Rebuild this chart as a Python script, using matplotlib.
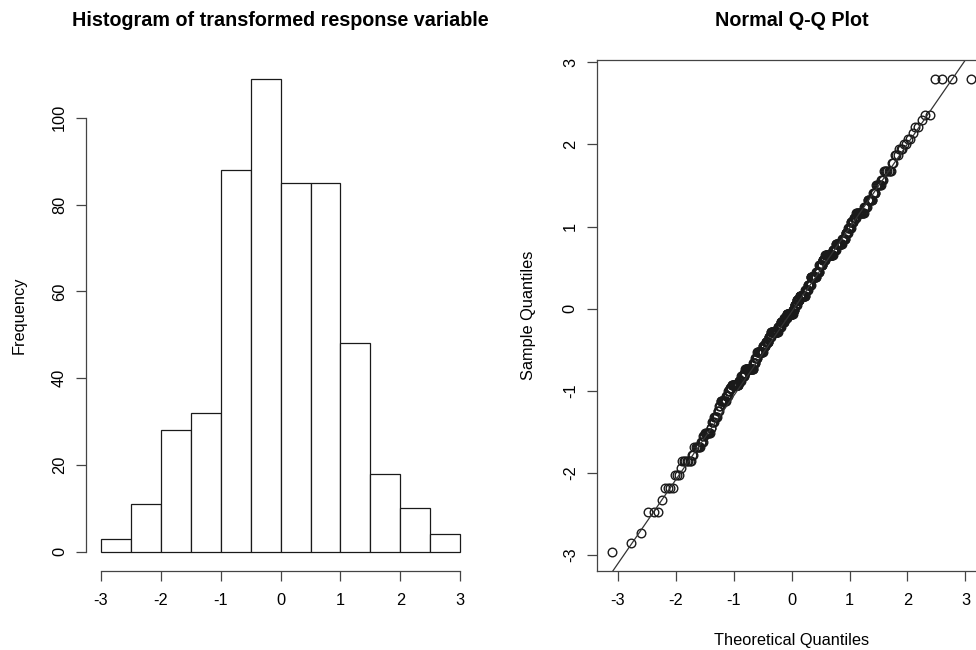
import numpy as np
import matplotlib
matplotlib.use("Agg")
import matplotlib.pyplot as plt
from statistics import NormalDist

plt.rcParams['font.family'] = ['Liberation Sans', 'DejaVu Sans']
plt.rcParams['axes.unicode_minus'] = False

# histogram: bin edges and frequencies
bin_edges = [-3.0, -2.5, -2.0, -1.5, -1.0, -0.5, 0.0, 0.5, 1.0, 1.5, 2.0, 2.5, 3.0]
bin_counts = [3, 11, 28, 32, 88, 109, 85, 85, 48, 18, 10, 4]

# sample values (sorted, distinct) and how many observations sit on each level
sample_levels = [
    -2.96, -2.85, -2.73,
    -2.48, -2.33, -2.18, -2.03,
    -1.94, -1.86, -1.78, -1.69, -1.62, -1.55, -1.51,
    -1.45, -1.38, -1.32, -1.25, -1.19, -1.13, -1.06, -1.00,
    -0.97, -0.935, -0.88, -0.82, -0.78, -0.73, -0.66, -0.60, -0.53,
    -0.46, -0.40, -0.35, -0.285, -0.22, -0.16, -0.11, -0.06, -0.01,
    0.05, 0.10, 0.16, 0.23, 0.29, 0.385, 0.45,
    0.53, 0.59, 0.65, 0.72, 0.79, 0.85, 0.92, 0.98,
    1.05, 1.10, 1.16, 1.24, 1.32, 1.41, 1.50,
    1.57, 1.68, 1.77, 1.87, 1.95,
    2.01, 2.07, 2.14, 2.21, 2.30, 2.36,
    2.80,
]
level_counts = [
    1, 1, 1,
    3, 1, 4, 3,
    1, 7, 2, 6, 3, 2, 7,
    2, 3, 5, 3, 2, 10, 4, 3,
    4, 16, 6, 8, 2, 22, 6, 6, 18,
    8, 10, 8, 24, 10, 12, 9, 22, 6,
    8, 10, 20, 9, 10, 18, 10,
    10, 9, 22, 8, 16, 8, 6, 6,
    6, 5, 14, 5, 8, 4, 6,
    3, 7, 2, 3, 3,
    2, 2, 1, 2, 1, 2,
    4,
]

hist_ticks_y = [0, 20, 40, 60, 80, 100]
axis_ticks = [-3, -2, -1, 0, 1, 2, 3]

# qqnorm-style theoretical quantiles
sample = np.repeat(sample_levels, level_counts)
n = len(sample)
nd = NormalDist()
theoretical = np.array([nd.inv_cdf((i - 0.5) / n) for i in range(1, n + 1)])

# qqline through the quartiles
yq = np.quantile(sample, [0.25, 0.75])
xq = np.array([nd.inv_cdf(0.25), nd.inv_cdf(0.75)])
slope = (yq[1] - yq[0]) / (xq[1] - xq[0])
intercept = yq[0] - slope * xq[0]

ink = '#1a1a1a'
fs_tick = 11.8
fs_title = 14.2

fig = plt.figure(figsize=(9.76, 6.5), dpi=100)

# left panel: histogram
ax1 = fig.add_axes([0.0886, 0.122, 0.3977, 0.786])
ax1.bar(bin_edges[:-1], bin_counts, width=np.diff(bin_edges), align='edge',
        color='white', edgecolor=ink, linewidth=0.9)
ax1.use_sticky_edges = False
ax1.margins(x=0.04, y=0.04)
ax1.set_xticks(axis_ticks)
ax1.set_yticks(hist_ticks_y)
for s in ['top', 'right']:
    ax1.spines[s].set_visible(False)
ax1.spines['left'].set_bounds(0, 100)
ax1.spines['bottom'].set_bounds(-3, 3)
for s in ['left', 'bottom']:
    ax1.spines[s].set_color('#444444')
    ax1.spines[s].set_linewidth(0.9)
ax1.set_title('Histogram of transformed response variable', fontsize=fs_title,
              fontweight='bold', pad=24)
ax1.set_ylabel('Frequency', fontsize=fs_tick)
ax1.yaxis.set_label_coords(-0.155, 0.5)

# right panel: normal Q-Q plot (right edge runs off the canvas)
ax2 = fig.add_axes([0.612, 0.122, 0.398, 0.786])
ax2.plot(theoretical, sample, 'o', mfc='none', mec=ink, ms=6.2, mew=1.0)
ax2.axline((0, intercept), slope=slope, color='#333333', linewidth=0.9)
ax2.margins(0.04)
ax2.set_xticks(axis_ticks)
ax2.set_yticks(axis_ticks)
for s in ax2.spines.values():
    s.set_color('#444444')
    s.set_linewidth(0.9)
ax2.set_title('Normal Q-Q Plot', fontsize=fs_title, fontweight='bold', pad=24)
ax2.set_xlabel('Theoretical Quantiles', fontsize=fs_tick)
ax2.set_ylabel('Sample Quantiles', fontsize=fs_tick)
ax2.xaxis.set_label_coords(0.5, -0.122)
ax2.yaxis.set_label_coords(-0.157, 0.5)

for ax in (ax1, ax2):
    ax.tick_params(axis='both', direction='out', length=7.5, width=0.9,
                   color='#444444', labelsize=fs_tick)
    ax.tick_params(axis='x', pad=8.5)
    ax.tick_params(axis='y', labelrotation=90, pad=6.5)
    for lab in ax.get_yticklabels():
        lab.set_verticalalignment('center')

fig.savefig('out.png', dpi=100)
